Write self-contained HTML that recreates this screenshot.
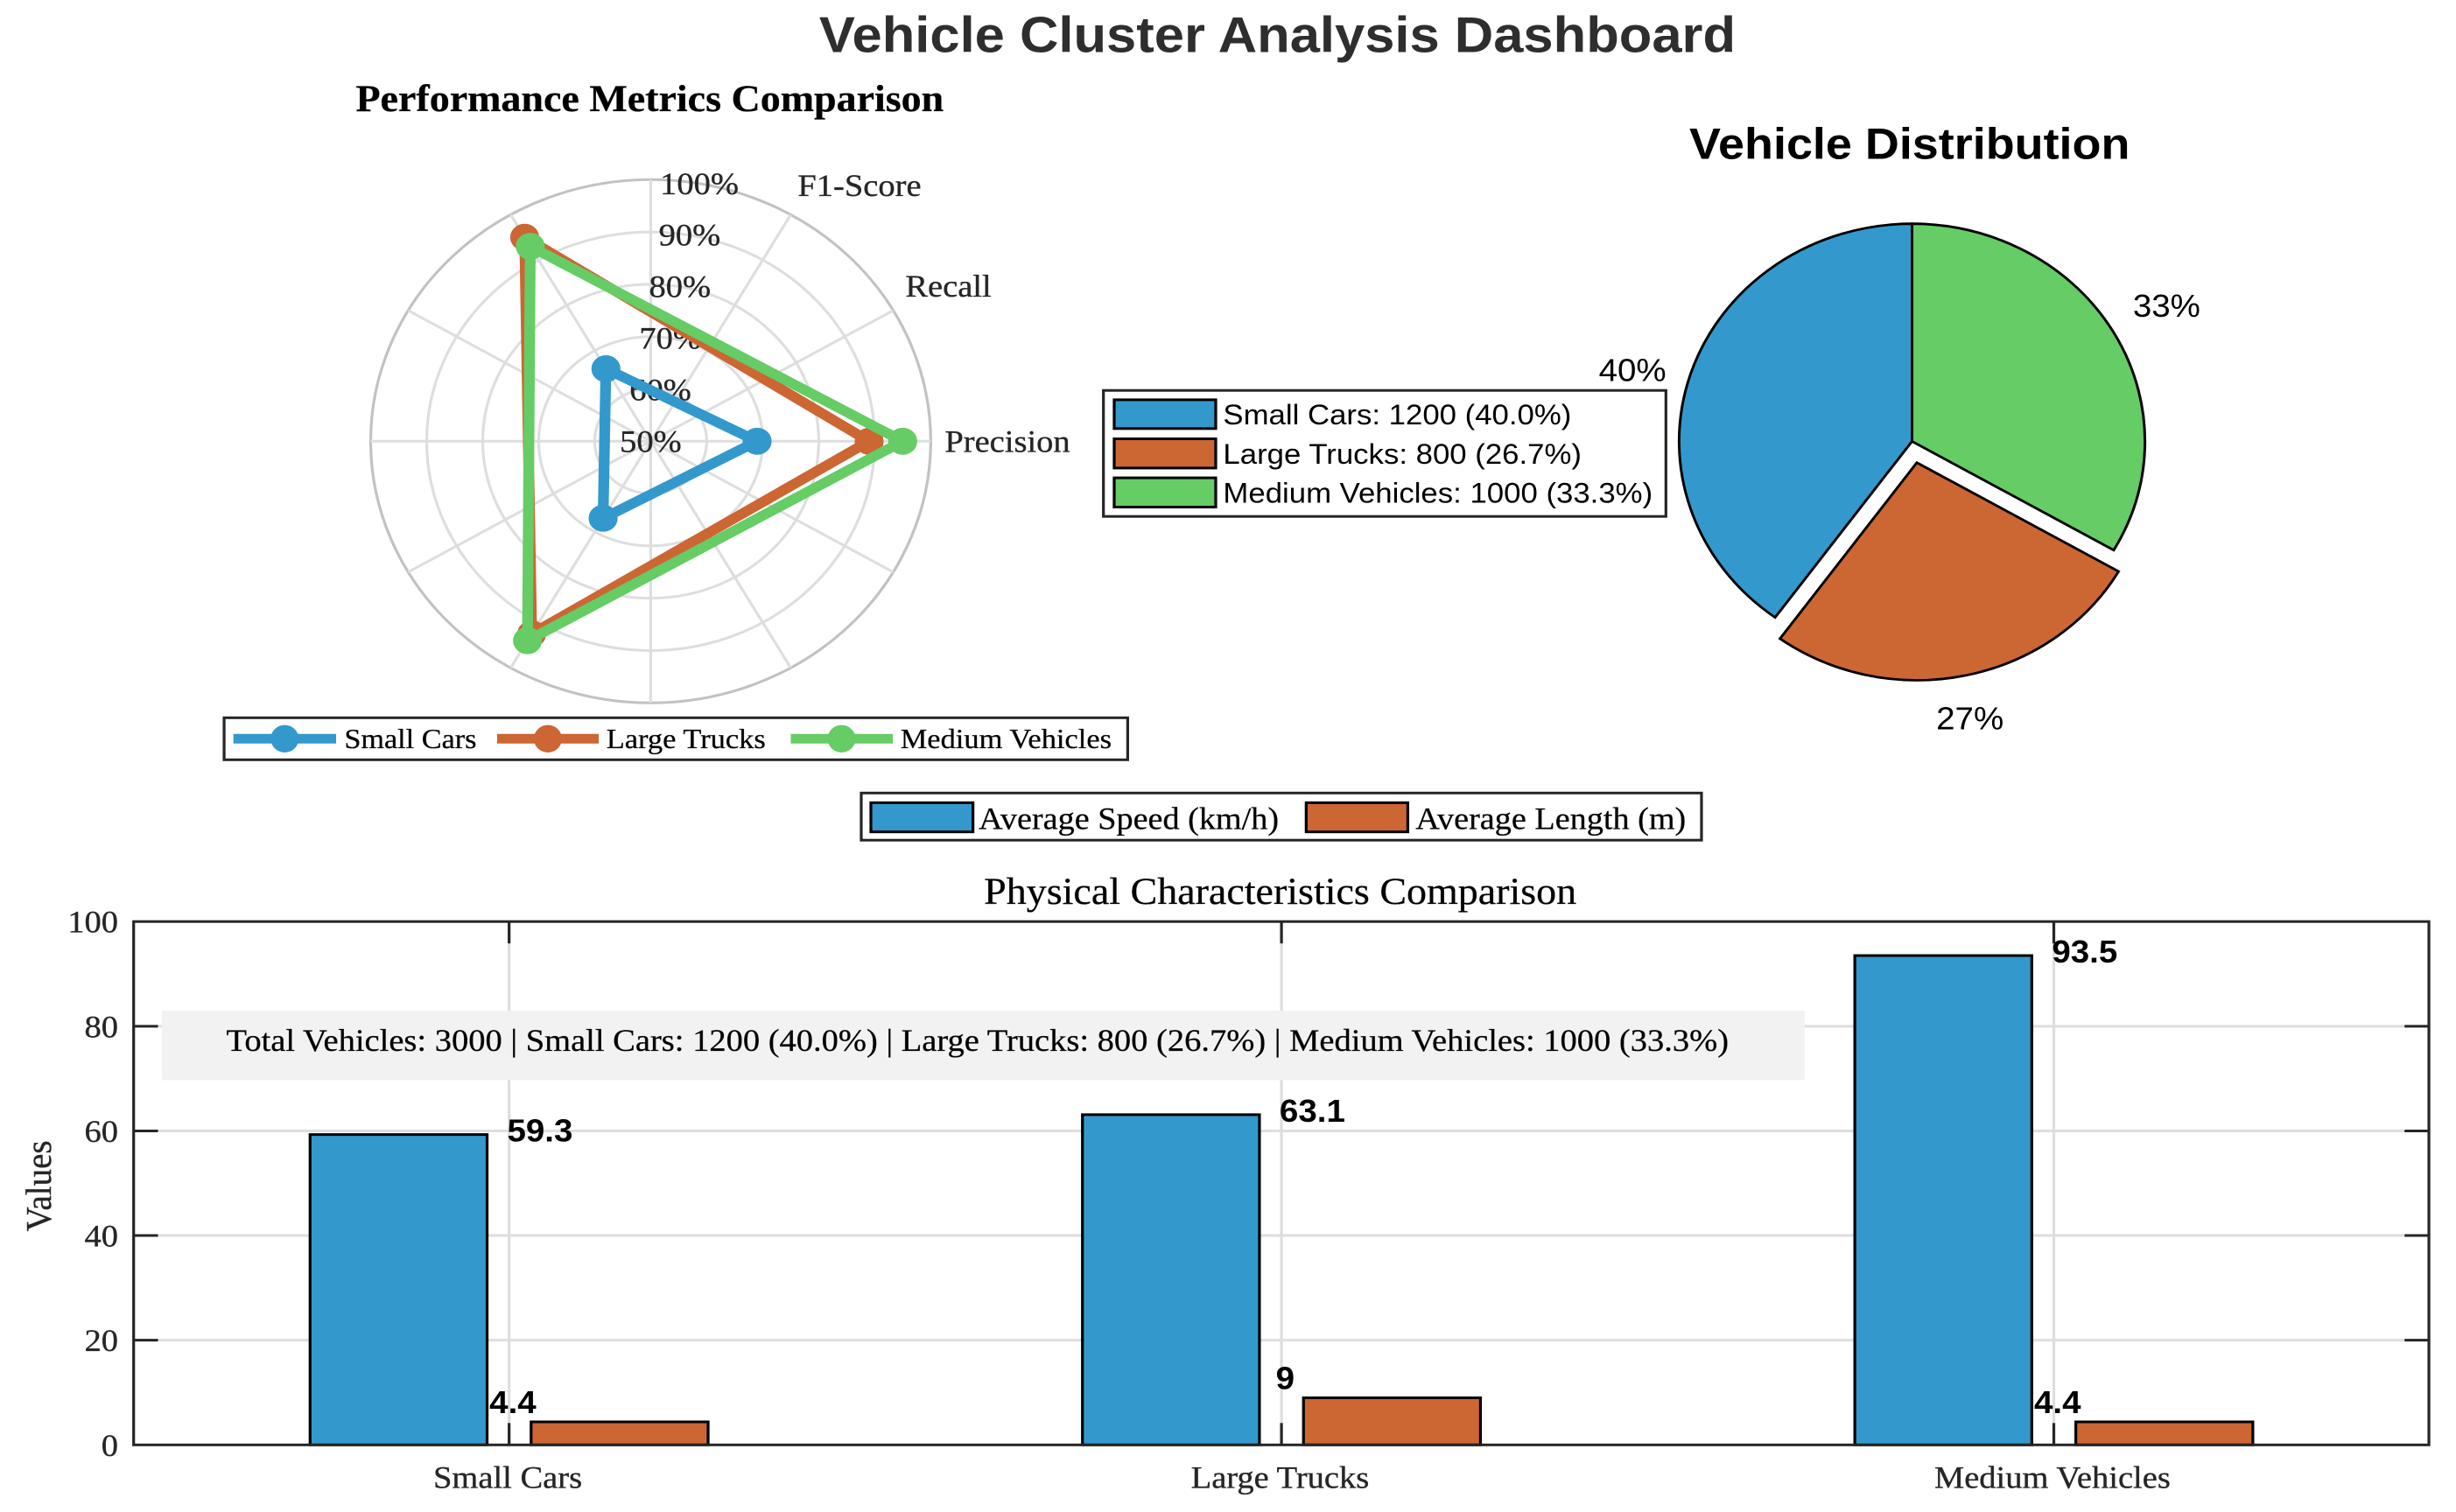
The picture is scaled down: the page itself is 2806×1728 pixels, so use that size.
<!DOCTYPE html>
<html lang="en">
<head>
<meta charset="utf-8">
<title>Vehicle Cluster Analysis Dashboard</title>
<style>
  html, body { margin: 0; padding: 0; background: #fff; width: 2806px; height: 1728px; overflow: hidden; }
  svg { display: block; }
  .serif { font-family: "Liberation Serif", "Times New Roman", serif; stroke: #262626; stroke-width: 0.35; }
  .sans { font-family: "Liberation Sans", Arial, sans-serif; }
</style>
</head>
<body>
<svg id="dashboard" xmlns="http://www.w3.org/2000/svg" width="2806" height="1728" viewBox="0 0 2622.43 1728" preserveAspectRatio="none">
  <rect x="0" y="0" width="2622.43" height="1728" fill="#ffffff"/>
  <text class="sans" x="1364" y="59.5" font-size="57.5" font-weight="700" fill="#2e2e2e" text-anchor="middle">Vehicle Cluster Analysis Dashboard</text>

  <g id="radar">
    <text class="serif" x="693.8" y="127" font-size="43" font-weight="700" fill="#000000" text-anchor="middle">Performance Metrics Comparison</text>
  </g>
  <g>
    <rect x="239.3" y="820.3" width="964.8" height="48" fill="#ffffff" stroke="#262626" stroke-width="3"/>
    <line x1="249.2" x2="358.9" y1="844.3" y2="844.3" stroke="#3399cc" stroke-width="11"/>
    <ellipse cx="304" cy="844.3" rx="15" ry="15.7" fill="#3399cc"/>
    <text class="serif" x="367.6" y="855" font-size="32" fill="#000000">Small Cars</text>
    <line x1="530.8" x2="639.3" y1="844.3" y2="844.3" stroke="#cc6633" stroke-width="11"/>
    <ellipse cx="585" cy="844.3" rx="15" ry="15.7" fill="#cc6633"/>
    <text class="serif" x="647.4" y="855" font-size="32.2" fill="#000000">Large Trucks</text>
    <line x1="844.4" x2="953.3" y1="844.3" y2="844.3" stroke="#66cc66" stroke-width="11"/>
    <ellipse cx="898.6" cy="844.3" rx="15" ry="15.7" fill="#66cc66"/>
    <text class="serif" x="961.4" y="855" font-size="32.2" fill="#000000">Medium Vehicles</text>
  </g>

  <g id="pie">
    <text class="sans" x="2039" y="181.6" font-size="50.4" font-weight="700" fill="#000000" text-anchor="middle">Vehicle Distribution</text>
  </g>
  <g>
    <rect x="1178.2" y="446.2" width="600.6" height="144" fill="#ffffff" stroke="#262626" stroke-width="3"/>
    <rect x="1189.7" y="456.9" width="108.4" height="32.9" fill="#3399cc" stroke="#000000" stroke-width="3"/>
    <text class="sans" x="1306" y="485" font-size="32.5" fill="#000000">Small Cars: 1200 (40.0%)</text>
    <rect x="1189.7" y="501.5" width="108.4" height="33.4" fill="#cc6633" stroke="#000000" stroke-width="3"/>
    <text class="sans" x="1306" y="530" font-size="32.5" fill="#000000">Large Trucks: 800 (26.7%)</text>
    <rect x="1189.7" y="546.1" width="108.4" height="33.4" fill="#66cc66" stroke="#000000" stroke-width="3"/>
    <text class="sans" x="1306" y="574.7" font-size="32.5" fill="#000000">Medium Vehicles: 1000 (33.3%)</text>
  </g>

  <g>
    <rect x="919.6" y="906.3" width="897.2" height="53.9" fill="#ffffff" stroke="#262626" stroke-width="3"/>
    <rect x="929.9" y="917.4" width="109" height="33.3" fill="#3399cc" stroke="#000000" stroke-width="3"/>
    <text class="serif" x="1045" y="947.5" font-size="35.7" fill="#000000">Average Speed (km/h)</text>
    <rect x="1394.7" y="917.4" width="108.5" height="33.3" fill="#cc6633" stroke="#000000" stroke-width="3"/>
    <text class="serif" x="1511.5" y="947.5" font-size="35.7" fill="#000000">Average Length (m)</text>
  </g>

  <text class="serif" x="1367" y="1033" font-size="43" fill="#000000" text-anchor="middle">Physical Characteristics Comparison</text>
  <g id="bars"></g>
  <text class="serif" transform="translate(54,1355.4) rotate(-90)" font-size="39" fill="#262626" text-anchor="middle">Values</text>
</svg>

<script>
// ---- Radar chart data ----
const radarThetaTicks = [0, 30, 60, 90, 120, 150, 180, 210, 240, 270, 300, 330];
const radarThetaLabels = ['Precision', 'Recall', 'F1-Score'];
const radarRadialTicks = [50, 60, 70, 80, 90, 100];
const smallCarsScores = [69, 66, 67];
const largeTrucksScores = [89, 95, 92.5];
const mediumVehiclesScores = [95, 93, 94];

// ---- Pie chart data ----
const pieCategories = ['Small Cars', 'Large Trucks', 'Medium Vehicles'];
const pieCounts = [1200, 800, 1000];
const pieExplode = [0, 0.1, 0];

// ---- Bar chart data ----
const barCategories = ['Small Cars', 'Large Trucks', 'Medium Vehicles'];
const avgSpeed = [59.3, 63.1, 93.5];
const avgLength = [4.4, 9, 4.4];
const barYTicks = [0, 20, 40, 60, 80, 100];

const SVGNS = 'http://www.w3.org/2000/svg';
const BLUE = '#3399cc', ORANGE = '#cc6633', GREEN = '#66cc66';
const INK = '#262626', GRID = '#dedede';

function mk(tag, parent, props, text) {
  const el = document.createElementNS(SVGNS, tag);
  for (const k in props) el.setAttribute(k, props[k]);
  if (text !== undefined) el.textContent = text;
  parent.appendChild(el);
  return el;
}
function slug(s) { return s.toLowerCase().replace(/[^a-z0-9]+/g, '-'); }

// ===== Radar =====
(function () {
  const g = document.getElementById('radar');
  const cx = 694.8, cy = 504.3, R = 299, rMin = 50, rMax = 100;
  const rScale = v => (v - rMin) / (rMax - rMin) * R;
  const px = (v, deg) => cx + rScale(v) * Math.cos(deg * Math.PI / 180);
  const py = (v, deg) => cy - rScale(v) * Math.sin(deg * Math.PI / 180);

  radarRadialTicks.forEach(t => {
    if (t === rMin) return;
    const ring = mk('circle', g, { cx: cx, cy: cy, r: rScale(t), fill: 'none', stroke: t === rMax ? '#c2c2c2' : GRID, 'stroke-width': 3 });
    
    
  });
  radarThetaTicks.forEach(d => {
    const sp = mk('line', g, { x1: cx, y1: cy, x2: px(rMax, d), y2: py(rMax, d), stroke: GRID, 'stroke-width': 3 });
    
    
  });
  radarRadialTicks.forEach(t => {
    const lab = mk('text', g, { x: px(t, 80), y: py(t, 80) + 12, 'font-size': 36, fill: '#262626', 'text-anchor': 'middle', class: 'serif' }, t + '%');
    
    
  });
  radarThetaLabels.forEach((name, i) => {
    const d = radarThetaTicks[i];
    const x = cx + 1.05 * R * Math.cos(d * Math.PI / 180);
    const y = cy - 1.05 * R * Math.sin(d * Math.PI / 180) + (d === 0 ? 12 : -8.5);
    const lab = mk('text', g, { x: x, y: y, 'font-size': 36, fill: '#262626', class: 'serif' }, name);
    
    
  });

  function series(name, values, color) {
    const angle = i => i * 360 / values.length;
    values.forEach((v, i) => {
      const m = mk('circle', g, { cx: px(v, angle(i)), cy: py(v, angle(i)), r: 10.2, fill: '#ffffff', stroke: color, 'stroke-width': 10.5 });
      
      
    });
    const pts = values.map((v, i) => px(v, angle(i)).toFixed(2) + ',' + py(v, angle(i)).toFixed(2)).join(' ');
    const line = mk('polygon', g, { points: pts, fill: 'none', stroke: color, 'stroke-width': 11.5, 'stroke-linejoin': 'round' });
    
    
  }
  series('small-cars', smallCarsScores, BLUE);
  series('large-trucks', largeTrucksScores, ORANGE);
  series('medium-vehicles', mediumVehiclesScores, GREEN);
})();

// ===== Pie =====
(function () {
  const g = document.getElementById('pie');
  const cx = 2041.6, cy = 504.4, r = 248.7;
  const colors = [BLUE, ORANGE, GREEN];
  const total = pieCounts.reduce((a, b) => a + b, 0);
  let start = 90;
  pieCounts.forEach((count, i) => {
    const sweep = count / total * 360;
    const end = start + sweep, mid = start + sweep / 2;
    const rad = d => d * Math.PI / 180;
    const ox = cx + pieExplode[i] * r * Math.cos(rad(mid));
    const oy = cy - pieExplode[i] * r * Math.sin(rad(mid));
    const x0 = ox + r * Math.cos(rad(start)), y0 = oy - r * Math.sin(rad(start));
    const x1 = ox + r * Math.cos(rad(end)), y1 = oy - r * Math.sin(rad(end));
    const d = 'M' + ox + ' ' + oy + ' L' + x0 + ' ' + y0 + ' A' + r + ' ' + r + ' 0 ' + (sweep > 180 ? 1 : 0) + ' 0 ' + x1 + ' ' + y1 + ' Z';
    const slice = mk('path', g, { d: d, fill: colors[i], stroke: '#000000', 'stroke-width': 2.8, 'stroke-linejoin': 'miter' });
    
    
    const lr = r * (1.25 + pieExplode[i] * 0.5);
    const cosM = Math.cos(rad(mid));
    const lx = cx + (lr + 3) * cosM - pieExplode[i] * 60;
    const ly = cy - lr * Math.sin(rad(mid)) + 13 + (cosM < -0.5 ? 14 : 0);
    const lab = mk('text', g, { x: lx, y: ly, 'font-size': 36, fill: '#000000', 'text-anchor': 'middle', class: 'sans' }, Math.round(count / total * 100) + '%');
    
    
    start = end;
  });
})();

// ===== Bars =====
(function () {
  const g = document.getElementById('bars');
  const left = 142.7, right = 2593.5, top = 1053.2, bottom = 1651.3;
  const xCat = i => 543.6 + i * 824.7;
  const yVal = v => bottom - v / 100 * (bottom - top);
  const barW = 189, off = 118, tickY = 26, tickX = 25;

  barYTicks.forEach(t => {
    if (t === 0 || t === 100) return;
    const gl = mk('line', g, { x1: left, x2: right, y1: yVal(t), y2: yVal(t), stroke: GRID, 'stroke-width': 3 });
    
    
  });
  barCategories.forEach((c, i) => {
    const gl = mk('line', g, { x1: xCat(i), x2: xCat(i), y1: top, y2: bottom, stroke: GRID, 'stroke-width': 3 });
    
    
  });

  const note = mk('rect', g, { x: 172.9, y: 1155.2, width: 1754.1, height: 79.2, fill: '#f2f2f2' });
  
  
  const noteText = mk('text', g, { x: 1043.7, y: 1201.1, 'font-size': 36, fill: '#000000', 'text-anchor': 'middle', class: 'serif' }, 'Total Vehicles: 3000 | Small Cars: 1200 (40.0%) | Large Trucks: 800 (26.7%) | Medium Vehicles: 1000 (33.3%)');
  
  

  barYTicks.forEach(t => {
    if (t !== 0 && t !== 100) {
      const tl = mk('line', g, { x1: left, x2: left + tickY, y1: yVal(t), y2: yVal(t), stroke: INK, 'stroke-width': 3 });
      
      
      const tr = mk('line', g, { x1: right - tickY, x2: right, y1: yVal(t), y2: yVal(t), stroke: INK, 'stroke-width': 3 });
      
      
    }
    const lab = mk('text', g, { x: 126.2, y: yVal(t) + 12.5, 'font-size': 36, fill: INK, 'text-anchor': 'end', class: 'serif' }, String(t));
    
    
  });

  barCategories.forEach((c, i) => {
    const tt = mk('line', g, { x1: xCat(i), x2: xCat(i), y1: top, y2: top + tickX, stroke: INK, 'stroke-width': 3 });
    
    
    const tb = mk('line', g, { x1: xCat(i), x2: xCat(i), y1: bottom - tickX, y2: bottom, stroke: INK, 'stroke-width': 3 });
    
    
    const lab = mk('text', g, { x: xCat(i) - 1.5, y: 1700.3, 'font-size': 36, fill: INK, 'text-anchor': 'middle', class: 'serif' }, c);
    
    

    const b1 = mk('rect', g, { x: xCat(i) - off - barW / 2, y: yVal(avgSpeed[i]), width: barW, height: bottom - yVal(avgSpeed[i]), fill: BLUE, stroke: '#000000', 'stroke-width': 3 });
    
    
    const b2 = mk('rect', g, { x: xCat(i) + off - barW / 2, y: yVal(avgLength[i]), width: barW, height: bottom - yVal(avgLength[i]), fill: ORANGE, stroke: '#000000', 'stroke-width': 3 });
    
    
  });

  const frame = mk('rect', g, { x: left, y: top, width: right - left, height: bottom - top, fill: 'none', stroke: INK, 'stroke-width': 3 });
  
  

  barCategories.forEach((c, i) => {
    const l1 = mk('text', g, { x: xCat(i) + 33, y: yVal(avgSpeed[i]) + 8, 'font-size': 36, 'font-weight': 700, fill: '#000000', 'text-anchor': 'middle', class: 'sans' }, String(avgSpeed[i]));
    
    
    const l2 = mk('text', g, { x: xCat(i) + 4, y: yVal(avgLength[i]) - 10, 'font-size': 36, 'font-weight': 700, fill: '#000000', 'text-anchor': 'middle', class: 'sans' }, String(avgLength[i]));
    
    
  });
})();
</script>
</body>
</html>
